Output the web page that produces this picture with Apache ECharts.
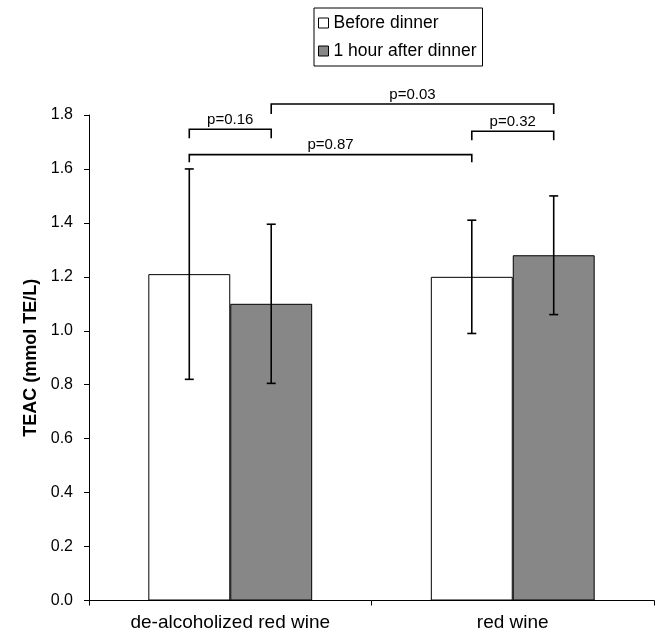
<!DOCTYPE html>
<html>
<head>
<meta charset="utf-8">
<script src="https://cdn.jsdelivr.net/npm/echarts@6/dist/echarts.min.js"></script>
<style>
html,body{margin:0;padding:0;background:#fff;}
#chart{width:663px;height:641px;}
</style>
</head>
<body>
<div id="chart"></div>
<script>
const categories = ['de-alcoholized red wine', 'red wine'];
const seriesNames = ['Before dinner', '1 hour after dinner'];
const beforeValues = [1.21, 1.20];
const afterValues = [1.10, 1.28];
const beforeErr = [0.39, 0.21];
const afterErr = [0.295, 0.22];
const yTicks = [0, 1.8, 0.2];
// brackets: [category1, seriesIndex1, category2, seriesIndex2, level, legEnd]
const bracketEnds = [
  [0, 0, 0, 1, 1.747, 1.714],
  [0, 1, 1, 1, 1.841, 1.804],
  [1, 0, 1, 1, 1.740, 1.706],
  [0, 0, 1, 0, 1.653, 1.625]
];
const bracketLabels = ['p=0.16', 'p=0.03', 'p=0.32', 'p=0.87'];

const BAR_W = 0.29; // fraction of band
const GRAY = '#878787';
const FONT = 'Liberation Sans, Arial, sans-serif';

function barOffset(api, s) {
  const band = api.size([1, 0])[0];
  const w = band * BAR_W;
  return s === 0 ? -w / 2 : w / 2;
}

const errData = [];
for (let i = 0; i < categories.length; i++) {
  errData.push([i, beforeValues[i] - beforeErr[i], beforeValues[i] + beforeErr[i], 0]);
  errData.push([i, afterValues[i] - afterErr[i], afterValues[i] + afterErr[i], 1]);
}

const chart = echarts.init(document.getElementById('chart'), null, {renderer: 'canvas'});
chart.setOption({
  backgroundColor: '#fff',
  animation: false,
  textStyle: {fontFamily: FONT, color: '#000'},
  legend: {
    orient: 'vertical',
    left: 314,
    top: 8,
    data: seriesNames,
    icon: 'rect',
    itemWidth: 10,
    itemHeight: 10,
    itemGap: 8,
    itemStyle: {borderColor: '#000', borderWidth: 1},
    textStyle: {fontSize: 17.5, fontFamily: FONT, color: '#000', lineHeight: 20},
    itemTextGap: 5,
    borderColor: '#000',
    borderWidth: 1,
    padding: [5, 6, 5, 4]
  },
  grid: {left: 89, right: 9, top: 115, bottom: 40.5, containLabel: false},
  xAxis: {
    type: 'category',
    data: categories,
    axisLine: {lineStyle: {color: '#000', width: 1}},
    axisTick: {show: true, length: 5, lineStyle: {color: '#000'}},
    axisLabel: {fontSize: 19, color: '#000', margin: 13, fontFamily: FONT}
  },
  yAxis: {
    type: 'value',
    min: yTicks[0],
    max: yTicks[1],
    interval: yTicks[2],
    name: 'TEAC (mmol TE/L)',
    nameLocation: 'middle',
    nameGap: 48,
    nameTextStyle: {fontSize: 18, fontWeight: 'bold', color: '#000', fontFamily: FONT},
    axisLine: {show: true, lineStyle: {color: '#000', width: 1}},
    axisTick: {show: true, length: 5, lineStyle: {color: '#000'}},
    splitLine: {show: false},
    axisLabel: {fontSize: 16, color: '#000', margin: 16, fontFamily: FONT,
      formatter: v => v.toFixed(1)}
  },
  series: [
    {
      name: seriesNames[0], type: 'bar', data: beforeValues,
      barWidth: (BAR_W * 100) + '%', barGap: '0%',
      itemStyle: {color: '#fff', borderColor: '#000', borderWidth: 1}
    },
    {
      name: seriesNames[1], type: 'bar', data: afterValues,
      barWidth: (BAR_W * 100) + '%', barGap: '0%',
      itemStyle: {color: GRAY, borderColor: '#000', borderWidth: 1}
    },
    {
      type: 'custom', name: 'err', data: errData, z: 10, silent: true,
      renderItem: function (params, api) {
        const s = api.value(3);
        const off = barOffset(api, s);
        const lo = api.coord([api.value(0), api.value(1)]);
        const hi = api.coord([api.value(0), api.value(2)]);
        const x = lo[0] + off;
        const cap = 4.5;
        const st = {stroke: '#000', lineWidth: 1.6};
        return {type: 'group', children: [
          {type: 'line', shape: {x1: x, y1: lo[1], x2: x, y2: hi[1]}, style: st},
          {type: 'line', shape: {x1: x - cap, y1: lo[1], x2: x + cap, y2: lo[1]}, style: st},
          {type: 'line', shape: {x1: x - cap, y1: hi[1], x2: x + cap, y2: hi[1]}, style: st}
        ]};
      }
    },
    {
      type: 'custom', name: 'brackets', data: bracketEnds, z: 10, silent: true, clip: false,
      renderItem: function (params, api) {
        const a = api.coord([api.value(0), api.value(4)]);
        const b = api.coord([api.value(2), api.value(4)]);
        const e = api.coord([api.value(0), api.value(5)]);
        const x1 = a[0] + barOffset(api, api.value(1));
        const x2 = b[0] + barOffset(api, api.value(3));
        const y = a[1];
        const y2 = e[1];
        const st = {stroke: '#000', lineWidth: 1.6, fill: null};
        return {type: 'group', children: [
          {type: 'polyline', shape: {points: [[x1, y2], [x1, y], [x2, y], [x2, y2]]}, style: st},
          {type: 'text', x: (x1 + x2) / 2, y: y - 2, style: {
            text: bracketLabels[params.dataIndex], fill: '#000', font: '15px ' + FONT,
            textAlign: 'center', textVerticalAlign: 'bottom'}}
        ]};
      }
    }
  ]
});
</script>
</body>
</html>
